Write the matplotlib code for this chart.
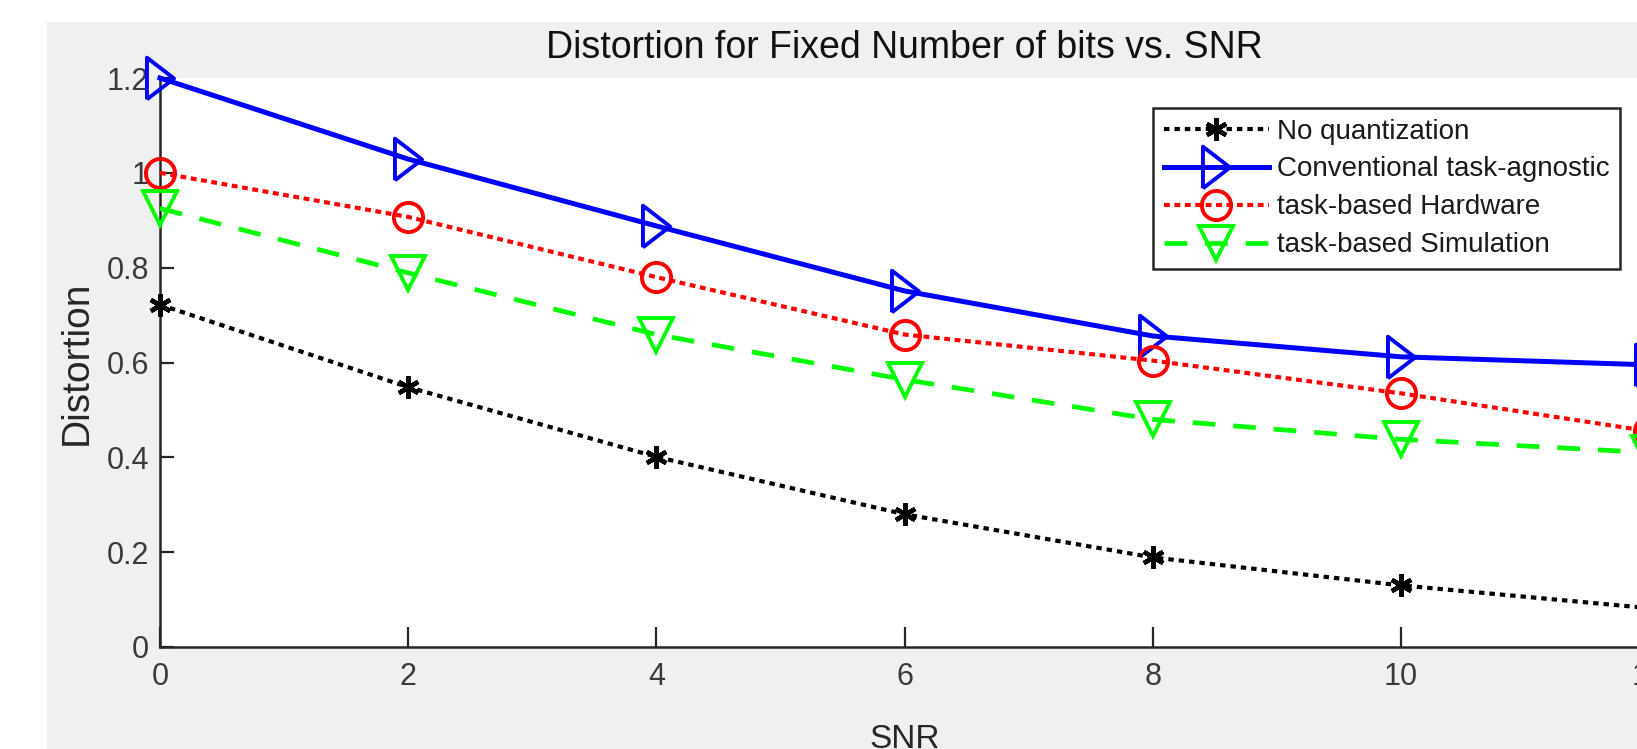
import matplotlib
matplotlib.use("Agg")
import matplotlib.pyplot as plt
from matplotlib.patches import Rectangle

# ---- data ----
snr = [0, 2, 4, 6, 8, 10, 12]
no_quant = [0.722, 0.548, 0.401, 0.280, 0.189, 0.130, 0.082]
conventional = [1.200, 1.029, 0.888, 0.751, 0.656, 0.612, 0.595]
hardware = [1.000, 0.907, 0.780, 0.659, 0.604, 0.535, 0.455]
simulation = [0.925, 0.789, 0.659, 0.564, 0.480, 0.438, 0.410]
labels = ["No quantization", "Conventional task-agnostic",
          "task-based Hardware", "task-based Simulation"]
xticks = [0, 2, 4, 6, 8, 10, 12]
xticklabels = ["0", "2", "4", "6", "8", "10", "12"]
yticks = [0, 0.2, 0.4, 0.6, 0.8, 1.0, 1.2]
yticklabels = ["0", "0.2", "0.4", "0.6", "0.8", "1", "1.2"]
title = "Distortion for Fixed Number of bits vs. SNR"
xlabel = "SNR"
ylabel = "Distortion"

plt.rcParams['font.family'] = ['Liberation Sans', 'DejaVu Sans']

W, H = 1637, 749
fig = plt.figure(figsize=(W / 100, H / 100), dpi=100, facecolor="white")
# grey MATLAB-style figure background (offset from top-left)
fig.patches.append(Rectangle((47 / W, 0), 1, 1 - 22 / H, transform=fig.transFigure,
                             facecolor="#f0f0f0", edgecolor="none", zorder=-10))

left, right, top, bottom = 160, 1649, 78, 647
ax = fig.add_axes([left / W, 1 - bottom / H, (right - left) / W, (bottom - top) / H])
ax.set_facecolor("white")

tri_right = [(-0.65, -1), (-0.65, 1), (0.65, 0), (-0.65, -1)]

ax.plot(snr, no_quant, color="black", lw=3.0, linestyle=(0, (1.3, 1.2)),
        marker=(6, 2, 0), markersize=16, markeredgewidth=3.2, clip_on=False,
        label=labels[0], zorder=3)
ax.plot(snr, conventional, color="#0000ff", lw=3.6, linestyle="-",
        marker=tri_right, markersize=30, markerfacecolor="none",
        markeredgewidth=2.8, clip_on=False, label=labels[1], zorder=3)
ax.plot(snr, hardware, color="#ff0000", lw=3.0, linestyle=(0, (1.4, 1.1)),
        marker="o", markersize=21, markerfacecolor="none",
        markeredgewidth=2.8, clip_on=False, label=labels[2], zorder=3)
ax.plot(snr, simulation, color="#00ff00", lw=3.4, linestyle=(0, (4.8, 3.8)),
        marker="v", markersize=24, markerfacecolor="none",
        markeredgewidth=2.8, clip_on=False, label=labels[3], zorder=3)

ax.set_xlim(0, 12)
ax.set_ylim(0, 1.2)
ax.set_xticks(xticks)
ax.set_xticklabels(xticklabels)
ax.set_yticks(yticks)
ax.set_yticklabels(yticklabels)

for s in ["top", "right"]:
    ax.spines[s].set_visible(False)
for s in ["left", "bottom"]:
    ax.spines[s].set_linewidth(1.8)
    ax.spines[s].set_color("#262626")

ax.tick_params(axis="x", direction="in", length=14.4, width=1.6, pad=11,
               labelsize=22, colors="#262626")
ax.tick_params(axis="y", direction="in", length=10, width=1.6, pad=8,
               labelsize=22, colors="#262626")
for t in ax.get_xticklabels() + ax.get_yticklabels():
    t.set_color("#3a3a3a")

ax.set_title(title, fontsize=27, pad=14.4, color="#111111")
ax.set_ylabel(ylabel, fontsize=28, color="#262626")
ax.yaxis.set_label_coords((77 - left) / (right - left), 0.5)
ax.yaxis.label.set_va("center")
ax.set_xlabel(xlabel, fontsize=24, color="#262626")
ax.xaxis.set_label_coords(0.5, -(748 - bottom) / (bottom - top))
ax.xaxis.label.set_va("baseline")

leg = ax.legend(loc="upper right", bbox_to_anchor=(1620 / W, 1 - 108 / H),
                bbox_transform=fig.transFigure, borderaxespad=0,
                fontsize=20, handlelength=3.78, handletextpad=0.29,
                borderpad=0.38, labelspacing=0.43, numpoints=1,
                fancybox=False, framealpha=1, edgecolor="#262626")
leg.get_frame().set_linewidth(1.8)
for t in leg.get_texts():
    t.set_color("#1a1a1a")

fig.savefig("out.png", dpi=100, facecolor=fig.get_facecolor())
